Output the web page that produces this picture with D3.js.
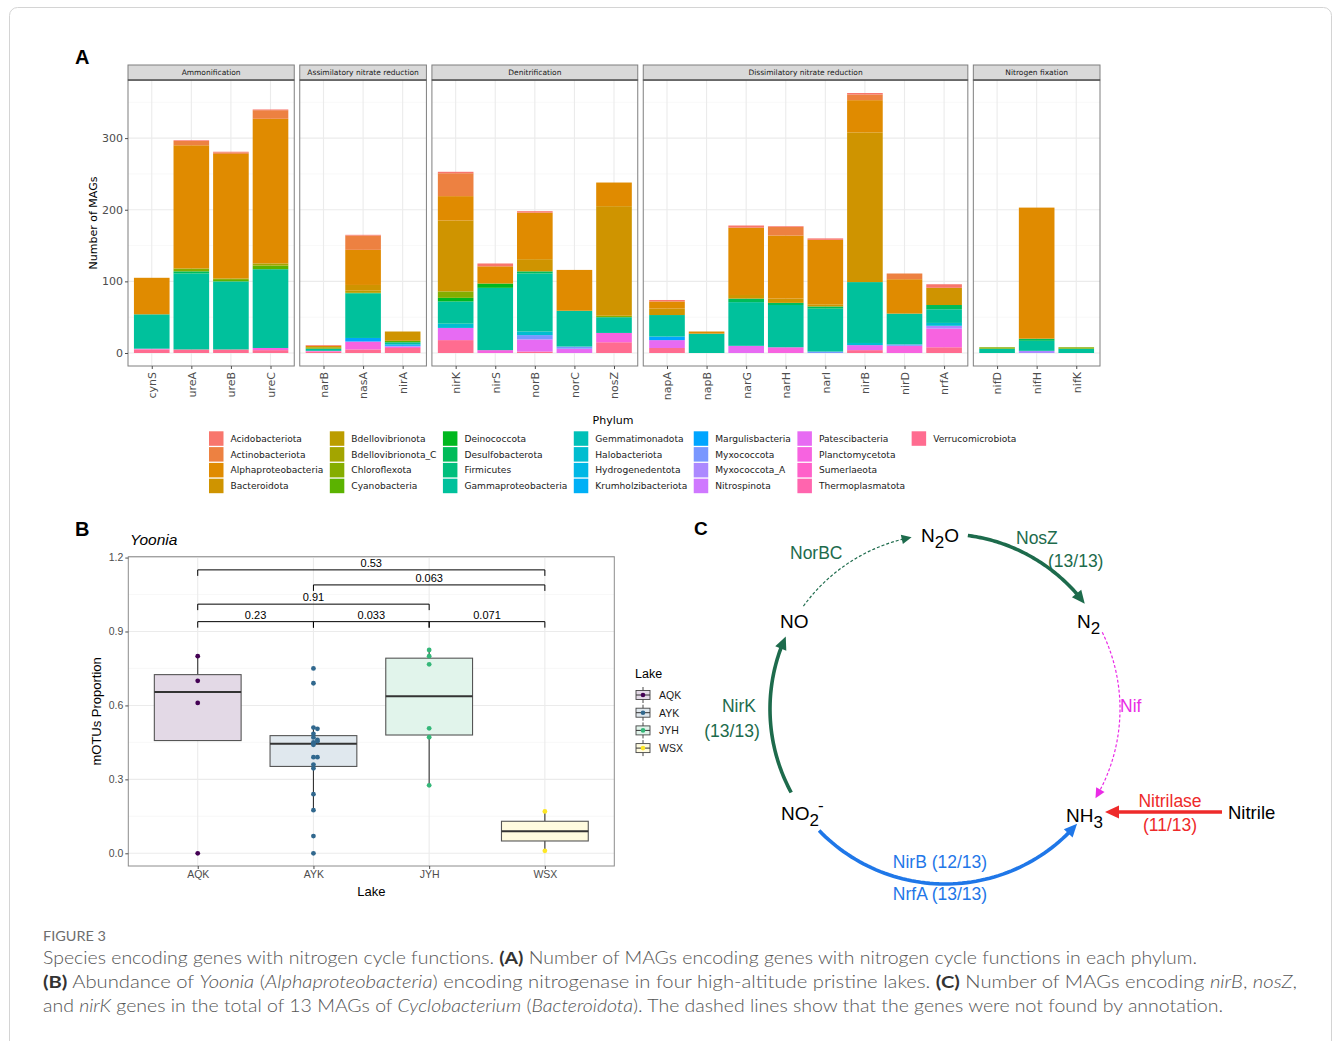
<!DOCTYPE html>
<html><head><meta charset="utf-8">
<script src="https://cdn.jsdelivr.net/npm/d3@7"></script>
<style>body{margin:0;background:#fff} svg{display:block} text{white-space:pre}</style>
</head><body>
<svg id="fig" width="1333" height="1041"></svg>
<script>
// ---------------- DATA ----------------
const pathways = ["Ammonification","Assimilatory nitrate reduction","Denitrification","Dissimilatory nitrate reduction","Nitrogen fixation"];
const genes = ["cynS","ureA","ureB","ureC","narB","nasA","nirA","nirK","nirS","norB","norC","nosZ","napA","napB","narG","narH","narI","nirB","nirD","nrfA","nifD","nifH","nifK"];
const genePathway = [0,0,0,0,1,1,1,2,2,2,2,2,3,3,3,3,3,3,3,3,4,4,4];
const phyla = ["Acidobacteriota","Actinobacteriota","Alphaproteobacteria","Bacteroidota","Bdellovibrionota","Bdellovibrionota_C","Chloroflexota","Cyanobacteria","Deinococcota","Desulfobacterota","Firmicutes","Gammaproteobacteria","Gemmatimonadota","Halobacteriota","Hydrogenedentota","Krumholzibacteriota","Margulisbacteria","Myxococcota","Myxococcota_A","Nitrospinota","Patescibacteria","Planctomycetota","Sumerlaeota","Thermoplasmatota","Verrucomicrobiota"];
// rows = phyla (same order), columns = genes (same order)
const magCounts = [
  [0,1,1,1,1,1,0,2,4,2,0,0,2,0,3,1,2,2,0,5,0,0,0],
  [0,6,2,12,0,20,0,32,0,0,0,0,0,0,0,12,0,8,8,0,0,0,0],
  [51,172,174,202,2,49,0,34,24,65,57,33,10,3,94,88,90,45,48,0,0,183,0],
  [0,0,0,0,0,8,13,99,0,17,0,153,9,0,5,6,3,209,0,24,0,0,0],
  [0,0,0,0,0,3,0,0,0,0,0,0,0,0,0,0,0,0,0,0,0,0,0],
  [0,0,0,3,0,0,0,0,0,0,0,0,0,0,0,0,0,0,0,0,0,0,0],
  [0,4,2,0,2,0,0,9,0,0,0,2,0,0,0,0,0,0,0,0,2,0,2],
  [0,0,2,5,0,0,2,0,0,0,0,0,0,0,0,0,0,0,0,0,0,0,0],
  [0,0,0,0,0,0,0,5,6,0,0,0,0,0,0,0,0,0,0,0,0,0,0],
  [0,3,0,0,0,1,0,0,0,3,0,0,0,0,5,3,3,0,0,6,0,3,0],
  [0,0,0,0,0,0,0,0,0,0,0,0,0,0,0,0,0,0,0,0,0,0,0],
  [48,106,95,110,3,62,3,31,87,81,50,22,30,27,61,59,60,85,43,19,6,14,6],
  [0,0,0,0,0,0,0,0,0,0,0,0,0,0,0,0,0,0,0,0,0,0,0],
  [0,0,0,0,0,0,0,6,0,5,0,0,0,0,0,0,0,3,0,4,0,0,0],
  [0,0,0,0,0,0,0,0,0,0,0,0,0,0,0,0,0,0,0,0,0,0,0],
  [0,0,0,0,0,0,0,0,0,0,0,0,0,0,0,0,0,0,0,0,0,0,0],
  [0,0,0,0,0,5,2,0,0,0,0,0,5,0,0,0,0,0,0,0,0,0,0],
  [0,0,0,0,0,0,1,0,0,6,3,0,0,0,0,0,2,0,2,0,0,0,0],
  [0,0,0,0,0,0,0,0,0,0,0,0,0,0,0,0,0,0,0,4,0,3,0],
  [0,0,0,0,0,0,0,0,0,0,0,0,0,0,0,0,0,0,0,0,0,0,0],
  [0,0,0,0,0,0,0,17,0,17,6,0,11,0,10,0,0,7,0,0,0,0,0],
  [1,0,0,3,1,11,2,0,4,0,0,13,0,0,0,8,0,0,10,26,0,0,0],
  [0,0,0,0,0,0,0,0,0,0,0,0,0,0,0,0,0,0,0,0,0,0,0],
  [0,0,0,0,0,0,0,0,0,0,0,0,0,0,0,0,0,0,0,0,0,0,0],
  [5,5,5,4,2,5,7,18,0,2,0,15,7,0,0,0,0,4,0,8,0,0,0]
];
const yTicksA = [0,100,200,300];

const lakes = ["AQK","AYK","JYH","WSX"];
const lakeColors = ["#440154","#31688E","#35B779","#FDE725"];
const aqkValues = [0.80,0.70,0.61,0.00];
const aykValues = [0.75,0.69,0.51,0.505,0.485,0.47,0.46,0.455,0.45,0.445,0.44,0.39,0.39,0.36,0.345,0.24,0.175,0.07,0.0];
const jyhValues = [0.825,0.80,0.767,0.507,0.471,0.276];
const wsxValues = [0.17,0.01];
const yTicksB = [0.0,0.3,0.6,0.9,1.2];
const bracketFrom = ["AQK","AYK","AQK","AQK","AYK","JYH"];
const bracketTo   = ["WSX","WSX","JYH","AYK","JYH","WSX"];
const bracketY    = [1.150,1.089,1.011,0.940,0.940,0.940];
const bracketP    = ["0.53","0.063","0.91","0.23","0.033","0.071"];

// ---------------- HELPERS ----------------
const svg = d3.select("#fig");
function hclHex(h,c,l){ // R's hcl() (polar CIE-LUV)
  const hr=h*Math.PI/180, U=c*Math.cos(hr), V=c*Math.sin(hr);
  const Xn=95.047,Yn=100,Zn=108.883;
  const Y = l>8 ? Yn*Math.pow((l+16)/116,3) : Yn*l/903.3;
  const un=4*Xn/(Xn+15*Yn+3*Zn), vn=9*Yn/(Xn+15*Yn+3*Zn);
  const u=U/(13*l)+un, v=V/(13*l)+vn;
  const X=Y*9*u/(4*v), Z=Y*(12-3*u-20*v)/(4*v);
  const x=X/100,y=Y/100,z=Z/100;
  const r= 3.2404542*x-1.5371385*y-0.4985314*z;
  const g=-0.9692660*x+1.8760108*y+0.0415560*z;
  const b= 0.0556434*x-0.2040259*y+1.0572252*z;
  const gm=t=>{t=t<=0.0031308?12.92*t:1.055*Math.pow(t,1/2.4)-0.055;return Math.round(Math.max(0,Math.min(1,t))*255);};
  return d3.rgb(gm(r),gm(g),gm(b)).formatHex();
}
const phylumColor = d3.scaleOrdinal().domain(phyla).range(phyla.map((p,i)=>hclHex(15+360*i/phyla.length,100,65)));

// frame
svg.append("rect").attr("x",9.5).attr("y",7.5).attr("width",1322).attr("height",1070).attr("rx",8)
  .attr("fill","none").attr("stroke","#d4d4d4").attr("stroke-width",1);

const fA = "DejaVu Sans, sans-serif";
const fB = "Liberation Sans, Arial, sans-serif";

// ---------------- PANEL A ----------------
svg.append("text").attr("x",75).attr("y",64).attr("font-family",fB).attr("font-weight","bold").attr("font-size",20).text("A");
const A = {left:128, right:1100, stripTop:65, top:80, bottom:366, gap:5.5};
const nPer = pathways.map((p,k)=>genePathway.filter(g=>g===k).length);
const unit = (A.right-A.left-A.gap*(pathways.length-1))/d3.sum(nPer,n=>n+0.2);
const rows = genes.map((g,j)=>{const o={gene:g}; phyla.forEach((p,i)=>o[p]=magCounts[i][j]); return o;});
const totals = genes.map((g,j)=>d3.sum(magCounts,r=>r[j]));
const maxT = d3.max(totals);
const yA = d3.scaleLinear().domain([-0.05*maxT,1.05*maxT]).range([A.bottom,A.top]);
const stack = d3.stack().keys(phyla.slice().reverse())(rows);
let xc = A.left;
pathways.forEach((pw,k)=>{
  const w=(nPer[k]+0.2)*unit, x0=xc; xc+=w+A.gap;
  const gs = genes.filter((g,i)=>genePathway[i]===k);
  const x = d3.scalePoint().domain(gs).range([x0,x0+w]).padding(0.6);
  const g = svg.append("g");
  g.append("rect").attr("x",x0).attr("y",A.top).attr("width",w).attr("height",A.bottom-A.top).attr("fill","#fff");
  [50,150,250,350].forEach(v=>g.append("line").attr("x1",x0).attr("x2",x0+w).attr("y1",yA(v)).attr("y2",yA(v)).attr("stroke","#f3f3f3").attr("stroke-width",0.6));
  yTicksA.forEach(v=>g.append("line").attr("x1",x0).attr("x2",x0+w).attr("y1",yA(v)).attr("y2",yA(v)).attr("stroke","#ebebeb").attr("stroke-width",1.1));
  gs.forEach(gn=>g.append("line").attr("x1",x(gn)).attr("x2",x(gn)).attr("y1",A.top).attr("y2",A.bottom).attr("stroke","#ebebeb").attr("stroke-width",1.1));
  const bw = x.step()*0.9;
  stack.forEach(layer=>{
    g.selectAll(null).data(layer.filter(d=>gs.includes(d.data.gene) && d[1]>d[0])).enter().append("rect")
      .attr("x",d=>x(d.data.gene)-bw/2).attr("width",bw)
      .attr("y",d=>yA(d[1])).attr("height",d=>yA(d[0])-yA(d[1]))
      .attr("fill",phylumColor(layer.key));
  });
  g.append("rect").attr("x",x0).attr("y",A.top).attr("width",w).attr("height",A.bottom-A.top).attr("fill","none").attr("stroke","#7f7f7f").attr("stroke-width",1);
  // strip
  g.append("rect").attr("x",x0).attr("y",A.stripTop).attr("width",w).attr("height",A.top-A.stripTop).attr("fill","#d9d9d9").attr("stroke","#7f7f7f").attr("stroke-width",1);
  g.append("line").attr("x1",x0).attr("x2",x0+w).attr("y1",A.top).attr("y2",A.top).attr("stroke","#333").attr("stroke-width",1);
  g.append("text").attr("x",x0+w/2).attr("y",(A.stripTop+A.top)/2+2.7).attr("text-anchor","middle").attr("font-family",fA).attr("font-size",7.5).attr("fill","#1a1a1a").text(pw);
  // x axis
  const ax = g.append("g").attr("transform",`translate(0,${A.bottom})`).call(d3.axisBottom(x).tickSize(3).tickPadding(2));
  ax.select(".domain").remove();
  ax.selectAll(".tick line").attr("stroke","#4d4d4d");
  ax.selectAll(".tick text").attr("font-family",fA).attr("font-size",11).attr("fill","#4d4d4d")
    .attr("transform","rotate(-90)").attr("text-anchor","end").attr("x",-6).attr("y",0).attr("dy","0.35em");
});
const axA = svg.append("g").attr("transform",`translate(${A.left},0)`).call(d3.axisLeft(yA).tickValues(yTicksA).tickSize(3).tickPadding(2));
axA.select(".domain").remove();
axA.selectAll(".tick line").attr("stroke","#4d4d4d");
axA.selectAll(".tick text").attr("font-family",fA).attr("font-size",11).attr("fill","#4d4d4d");
svg.append("text").attr("transform",`translate(97,${(A.top+A.bottom)/2}) rotate(-90)`).attr("text-anchor","middle")
  .attr("font-family",fA).attr("font-size",11).attr("fill","#000").text("Number of MAGs");

// legend A
svg.append("text").attr("x",613).attr("y",424).attr("text-anchor","middle").attr("font-family",fA).attr("font-size",11).text("Phylum");
const legA = svg.append("g");
const perCol = 4, keyS = 14.5, rowP = 15.8, legTop = 431.3;
let lx = 209;
for(let c=0;c*perCol<phyla.length;c++){
  const items = phyla.slice(c*perCol,(c+1)*perCol);
  let maxW = 0;
  items.forEach((p,r)=>{
    legA.append("rect").attr("x",lx).attr("y",legTop+r*rowP).attr("width",keyS).attr("height",keyS).attr("fill",phylumColor(p));
    const t = legA.append("text").attr("x",lx+21.5).attr("y",legTop+r*rowP+keyS/2+3.2).attr("font-family",fA).attr("font-size",9.1).attr("fill","#1a1a1a").text(p);
    maxW = Math.max(maxW, t.node().getComputedTextLength());
  });
  lx = lx+21.5+maxW+6.5;
}

// ---------------- PANEL B ----------------
svg.append("text").attr("x",75).attr("y",536).attr("font-family",fB).attr("font-weight","bold").attr("font-size",20).text("B");
svg.append("text").attr("x",130).attr("y",545).attr("font-family",fB).attr("font-style","italic").attr("font-size",15.5).text("Yoonia");
const B = {left:128.3,right:614.3,top:556.7,bottom:866};
const xB = d3.scalePoint().domain(lakes).range([B.left,B.right]).padding(0.6);
const yB = d3.scaleLinear().domain([-0.0515,1.2035]).range([B.bottom,B.top]);
const gB = svg.append("g");
gB.append("rect").attr("x",B.left).attr("y",B.top).attr("width",B.right-B.left).attr("height",B.bottom-B.top).attr("fill","#fff");
[0.15,0.45,0.75,1.05].forEach(v=>gB.append("line").attr("x1",B.left).attr("x2",B.right).attr("y1",yB(v)).attr("y2",yB(v)).attr("stroke","#f3f3f3").attr("stroke-width",0.6));
yTicksB.forEach(v=>gB.append("line").attr("x1",B.left).attr("x2",B.right).attr("y1",yB(v)).attr("y2",yB(v)).attr("stroke","#ebebeb").attr("stroke-width",1.1));
lakes.forEach(l=>gB.append("line").attr("x1",xB(l)).attr("x2",xB(l)).attr("y1",B.top).attr("y2",B.bottom).attr("stroke","#ebebeb").attr("stroke-width",1.1));
const lakeValues = [aqkValues,aykValues,jyhValues,wsxValues];
const boxW = xB.step()*0.75;
lakes.forEach((l,i)=>{
  const v = lakeValues[i].slice().sort(d3.ascending);
  const q1=d3.quantile(v,0.25), med=d3.quantile(v,0.5), q3=d3.quantile(v,0.75), iqr=q3-q1;
  const hi=d3.max(v.filter(d=>d<=q3+1.5*iqr)), lo=d3.min(v.filter(d=>d>=q1-1.5*iqr));
  const cx=xB(l);
  if(hi>q3) gB.append("line").attr("x1",cx).attr("x2",cx).attr("y1",yB(q3)).attr("y2",yB(hi)).attr("stroke","#333").attr("stroke-width",1.1);
  if(lo<q1) gB.append("line").attr("x1",cx).attr("x2",cx).attr("y1",yB(q1)).attr("y2",yB(lo)).attr("stroke","#333").attr("stroke-width",1.1);
  const col=d3.color(lakeColors[i]); col.opacity=0.15;
  gB.append("rect").attr("x",cx-boxW/2).attr("y",yB(q3)).attr("width",boxW).attr("height",yB(q1)-yB(q3))
    .attr("fill","#fff");
  gB.append("rect").attr("x",cx-boxW/2).attr("y",yB(q3)).attr("width",boxW).attr("height",yB(q1)-yB(q3))
    .attr("fill",col.formatRgb()).attr("stroke","#555").attr("stroke-width",1.1);
  gB.append("line").attr("x1",cx-boxW/2).attr("x2",cx+boxW/2).attr("y1",yB(med)).attr("y2",yB(med)).attr("stroke","#333").attr("stroke-width",2);
  // points (small deterministic dodge for near-ties)
  const placed=[];
  lakeValues[i].forEach(d=>{
    const near = placed.filter(p=>Math.abs(p-d)<0.012).length;
    placed.push(d);
    gB.append("circle").attr("cx",cx+(near%2?4:0)).attr("cy",yB(d)).attr("r",2.4).attr("fill",lakeColors[i]);
  });
});
gB.append("rect").attr("x",B.left).attr("y",B.top).attr("width",B.right-B.left).attr("height",B.bottom-B.top).attr("fill","none").attr("stroke","#8c8c8c").attr("stroke-width",1);
// brackets
bracketP.forEach((p,i)=>{
  const x1=xB(bracketFrom[i]), x2=xB(bracketTo[i]), y=yB(bracketY[i]);
  gB.append("path").attr("d",`M${x1},${y+6}V${y}H${x2}V${y+6}`).attr("fill","none").attr("stroke","#000").attr("stroke-width",1);
  gB.append("text").attr("x",(x1+x2)/2).attr("y",y-3).attr("text-anchor","middle").attr("font-family",fB).attr("font-size",11).text(p);
});
const axBy = svg.append("g").attr("transform",`translate(${B.left},0)`).call(d3.axisLeft(yB).tickValues(yTicksB).tickFormat(d3.format(".1f")).tickSize(3).tickPadding(2));
axBy.select(".domain").remove();
axBy.selectAll(".tick line").attr("stroke","#4d4d4d");
axBy.selectAll(".tick text").attr("font-family",fB).attr("font-size",10.5).attr("fill","#4d4d4d");
const axBx = svg.append("g").attr("transform",`translate(0,${B.bottom})`).call(d3.axisBottom(xB).tickSize(3).tickPadding(2));
axBx.select(".domain").remove();
axBx.selectAll(".tick line").attr("stroke","#4d4d4d");
axBx.selectAll(".tick text").attr("font-family",fB).attr("font-size",10.5).attr("fill","#4d4d4d");
svg.append("text").attr("x",(B.left+B.right)/2).attr("y",896).attr("text-anchor","middle").attr("font-family",fB).attr("font-size",13).text("Lake");
svg.append("text").attr("transform",`translate(101,${(B.top+B.bottom)/2}) rotate(-90)`).attr("text-anchor","middle").attr("font-family",fB).attr("font-size",13).text("mOTUs Proportion");
// legend B
svg.append("text").attr("x",635).attr("y",678).attr("font-family",fB).attr("font-size",12.5).text("Lake");
lakes.forEach((l,i)=>{
  const cy=695+i*17.7, kx=636, kw=14;
  const col=d3.color(lakeColors[i]); col.opacity=0.15;
  svg.append("line").attr("x1",kx+kw/2).attr("x2",kx+kw/2).attr("y1",cy-8).attr("y2",cy+8).attr("stroke","#333").attr("stroke-width",0.9);
  svg.append("rect").attr("x",kx).attr("y",cy-4.5).attr("width",kw).attr("height",9).attr("fill","#fff");
  svg.append("rect").attr("x",kx).attr("y",cy-4.5).attr("width",kw).attr("height",9).attr("fill",col.formatRgb()).attr("stroke","#444").attr("stroke-width",0.9);
  svg.append("line").attr("x1",kx).attr("x2",kx+kw).attr("y1",cy).attr("y2",cy).attr("stroke","#333").attr("stroke-width",1);
  svg.append("circle").attr("cx",kx+kw/2).attr("cy",cy).attr("r",2.3).attr("fill",lakeColors[i]);
  svg.append("text").attr("x",659).attr("y",cy+4).attr("font-family",fB).attr("font-size",10.5).attr("fill","#1a1a1a").text(l);
});

// ---------------- PANEL C ----------------
svg.append("text").attr("x",694).attr("y",535).attr("font-family",fB).attr("font-weight","bold").attr("font-size",19).text("C");
const green="#1d6b4c", blue="#1f77e8", magenta="#ea2be6", red="#ee2a2a";
const circ = {cx:945, cy:709, r:175};
const arcs = [
  {a0:216, a1:259, color:green, dashed:true},
  {a0:277.5, a1:323, color:green, dashed:false},
  {a0:334, a1:390.7, color:magenta, dashed:true},
  {a0:136, a1:41, color:blue, dashed:false},
  {a0:151.5, a1:204.5, color:green, dashed:false}
];
const gC = svg.append("g");
const pt = a=>[circ.cx+circ.r*Math.cos(a*Math.PI/180), circ.cy+circ.r*Math.sin(a*Math.PI/180)];
function arrowHead(tip, dir, L, Wd, color){
  const [dx,dy]=dir, nx=-dy, ny=dx;
  const bx=tip[0]-dx*L, by=tip[1]-dy*L;
  gC.append("path").attr("d",`M${tip[0]},${tip[1]}L${bx+nx*Wd},${by+ny*Wd}L${bx-nx*Wd},${by-ny*Wd}Z`).attr("fill",color);
}
arcs.forEach(a=>{
  const L = a.dashed?10:13, Wd = a.dashed?4.8:6;
  const sign = a.a1>a.a0?1:-1;
  const dAng = (L/circ.r)*180/Math.PI*0.9;
  const endA = a.a1 - sign*dAng;
  const pts = d3.range(0,1.0001,1/60).map(t=>pt(a.a0+(endA-a.a0)*t));
  gC.append("path").attr("d",d3.line()(pts)).attr("fill","none").attr("stroke",a.color)
    .attr("stroke-width",a.dashed?1.2:3.6).attr("stroke-dasharray",a.dashed?"3,2":null);
  const tip = pt(a.a1), base = pt(a.a1 - sign*dAng);
  const len = Math.hypot(tip[0]-base[0],tip[1]-base[1]);
  arrowHead(tip,[(tip[0]-base[0])/len,(tip[1]-base[1])/len],L,Wd,a.color);
});
// straight red arrow
gC.append("line").attr("x1",1222).attr("x2",1118).attr("y1",812).attr("y2",812).attr("stroke",red).attr("stroke-width",3.6);
arrowHead([1105,812],[-1,0],14,6.5,red);

function mol(x,y,parts){
  const t = gC.append("text").attr("x",x).attr("y",y).attr("font-family",fB).attr("font-size",19).attr("fill","#000");
  parts.forEach(p=>{
    const s=t.append("tspan").text(p[0]);
    if(p[1]) s.attr("dy",p[1]);
    if(p[2]) s.attr("font-size",p[2]);
    if(p[3]) s.attr("dx",p[3]);
  });
}
mol(921,542,[["N"],["2",6,17],["O",-6]]);
mol(780,628,[["NO"]]);
mol(1077,628,[["N"],["2",6,17]]);
mol(781,820,[["NO"],["2",6,17],["-",-15,17,-1]]);
mol(1066,822,[["NH"],["3",6,17]]);
gC.append("text").attr("x",1228).attr("y",819).attr("font-family",fB).attr("font-size",18.5).text("Nitrile");
function lab(x,y,txt,color,anchor){
  gC.append("text").attr("x",x).attr("y",y).attr("font-family",fB).attr("font-size",17.5).attr("fill",color).attr("text-anchor",anchor||"start").text(txt);
}
lab(790,559,"NorBC",green);
lab(1016,544,"NosZ",green);
lab(1048,567,"(13/13)",green);
lab(739,712,"NirK",green,"middle");
lab(732,737,"(13/13)",green,"middle");
lab(1120,712,"Nif",magenta);
lab(1170,807,"Nitrilase",red,"middle");
lab(1170,831,"(11/13)",red,"middle");
lab(940,868,"NirB (12/13)",blue,"middle");
lab(940,900,"NrfA (13/13)",blue,"middle");

// ---------------- CAPTION ----------------
const fCap = "Lato, 'Open Sans', sans-serif";
svg.append("text").attr("x",43).attr("y",941).attr("font-family",fCap).attr("font-size",13).attr("fill","#6e6e6e")
  .attr("textLength",63).attr("lengthAdjust","spacingAndGlyphs").text("FIGURE 3");
const capLines = [
  {y:964, w:1154, segs:[["Species encoding genes with nitrogen cycle functions. ",""],["(A)","b"],[" Number of MAGs encoding genes with nitrogen cycle functions in each phylum.",""]]},
  {y:988, w:1254, segs:[["(B)","b"],[" Abundance of ",""],["Yoonia","i"],[" (",""],["Alphaproteobacteria","i"],[") encoding nitrogenase in four high-altitude pristine lakes. ",""],["(C)","b"],[" Number of MAGs encoding ",""],["nirB","i"],[", ",""],["nosZ","i"],[",",""]]},
  {y:1012, w:1180, segs:[["and ",""],["nirK","i"],[" genes in the total of 13 MAGs of ",""],["Cyclobacterium","i"],[" (",""],["Bacteroidota","i"],["). The dashed lines show that the genes were not found by annotation.",""]]}
];
capLines.forEach(L=>{
  const t = svg.append("text").attr("x",43).attr("y",L.y).attr("font-family",fCap).attr("font-size",17).attr("font-weight",300).attr("fill","#555")
    .attr("textLength",L.w).attr("lengthAdjust","spacingAndGlyphs");
  L.segs.forEach(s=>{
    const sp=t.append("tspan").text(s[0]);
    if(s[1]==="b") sp.attr("font-weight","bold").attr("fill","#333");
    if(s[1]==="i") sp.attr("font-style","italic");
  });
});
</script>
</body></html>
